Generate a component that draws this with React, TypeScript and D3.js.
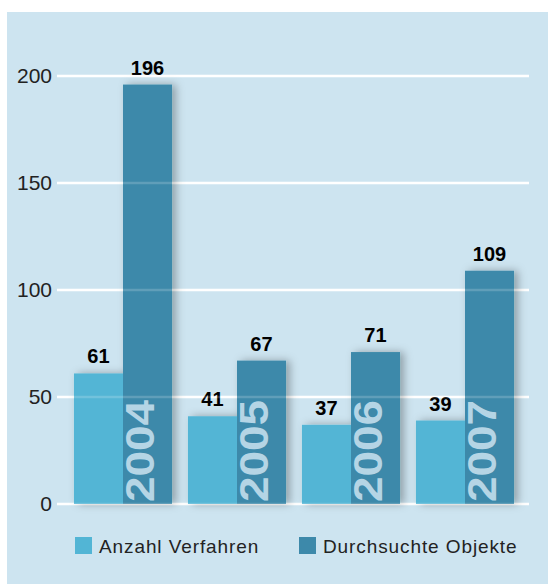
import React, { useEffect, useRef } from 'react';
import * as d3 from 'd3';

const years = ['2004', '2005', '2006', '2007'];
const seriesNames = ['Anzahl Verfahren', 'Durchsuchte Objekte'];
const verfahren = [61, 41, 37, 39];
const objekte = [196, 67, 71, 109];
const yTicks = [0, 50, 100, 150, 200];

const colors = ['#52b5d5', '#3d89aa'];

const App = () => {
  const svgRef = useRef<SVGSVGElement>(null);

  useEffect(() => {
    const width = 548;
    const height = 584;
    const svg = d3.select(svgRef.current);
    svg.selectAll('*').remove();
    svg.attr('width', width).attr('height', height);

    // drop shadow for bars
    const defs = svg.append('defs');
    const filter = defs.append('filter')
      .attr('id', 'barShadow')
      .attr('x', '-20%').attr('y', '-10%')
      .attr('width', '160%').attr('height', '120%');
    filter.append('feDropShadow')
      .attr('dx', 4).attr('dy', 0)
      .attr('stdDeviation', 4)
      .attr('flood-color', '#000')
      .attr('flood-opacity', 0.3);

    // background panel
    svg.append('rect')
      .attr('x', 7).attr('y', 12)
      .attr('width', width - 7).attr('height', height - 12)
      .attr('fill', '#cde4f0');

    const x = d3.scaleBand()
      .domain(years)
      .range([66, 522])
      .paddingInner(0.14)
      .paddingOuter(0.07);

    const xs = d3.scaleBand()
      .domain(seriesNames)
      .range([0, x.bandwidth()]);

    const y = d3.scaleLinear().domain([0, 200]).range([504, 76]);

    // gridlines
    const grid = svg.append('g');
    grid.selectAll('line')
      .data(yTicks)
      .join('line')
      .attr('x1', 57).attr('x2', 529)
      .attr('y1', d => y(d)).attr('y2', d => y(d))
      .attr('stroke', '#fff')
      .attr('stroke-width', 2.5);

    grid.selectAll('text')
      .data(yTicks)
      .join('text')
      .attr('x', 52)
      .attr('y', d => y(d))
      .attr('dy', '0.35em')
      .attr('text-anchor', 'end')
      .style('font-family', '"Liberation Sans", Arial, sans-serif')
      .style('font-size', '21px')
      .attr('fill', '#222')
      .text(d => d);

    const rows = years.map((yr, i) => ({ year: yr, values: [verfahren[i], objekte[i]] }));

    const groups = svg.append('g')
      .selectAll('g')
      .data(rows)
      .join('g')
      .attr('transform', d => `translate(${x(d.year)},0)`);

    groups.append('g')
      .attr('filter', 'url(#barShadow)')
      .selectAll('rect')
      .data(d => d.values.map((v, j) => ({ name: seriesNames[j], value: v, j })))
      .join('rect')
      .attr('x', d => xs(d.name)!)
      .attr('y', d => y(d.value))
      .attr('width', xs.bandwidth())
      .attr('height', d => y(0) - y(d.value))
      .attr('fill', d => colors[d.j]);

    // faint gridlines over bars
    svg.append('g')
      .selectAll('line')
      .data(yTicks)
      .join('line')
      .attr('x1', 57).attr('x2', 529)
      .attr('y1', d => y(d)).attr('y2', d => y(d))
      .attr('stroke', '#fff')
      .attr('stroke-opacity', 0.18)
      .attr('stroke-width', 2.5);

    // value labels
    groups.selectAll('text.val')
      .data(d => d.values.map((v, j) => ({ name: seriesNames[j], value: v })))
      .join('text')
      .attr('class', 'val')
      .attr('x', d => xs(d.name)! + xs.bandwidth() / 2)
      .attr('y', d => y(d.value) - 10)
      .attr('text-anchor', 'middle')
      .style('font-family', '"Liberation Sans", Arial, sans-serif')
      .style('font-size', '20px')
      .style('font-weight', 'bold')
      .attr('fill', '#000')
      .text(d => d.value);

    // year labels inside dark bars
    groups.append('text')
      .attr('transform', `translate(${xs(seriesNames[1])! + 31},${y(0) - 2}) rotate(-90)`)
      .attr('textLength', 102)
      .attr('lengthAdjust', 'spacingAndGlyphs')
      .style('font-family', '"Liberation Sans", Arial, sans-serif')
      .style('font-size', '40px')
      .style('font-weight', 'bold')
      .attr('fill', '#b5d5e5')
      .text(d => d.year);

    // legend
    const legendX = [75, 299];
    const legend = svg.append('g')
      .selectAll('g')
      .data(seriesNames)
      .join('g')
      .attr('transform', (d, i) => `translate(${legendX[i]},537)`);

    legend.append('rect')
      .attr('width', 17).attr('height', 17)
      .attr('fill', (d, i) => colors[i]);

    legend.append('text')
      .attr('x', 24)
      .attr('y', 9)
      .attr('dy', '0.35em')
      .style('font-family', '"Liberation Sans", Arial, sans-serif')
      .style('font-size', '19px')
      .style('letter-spacing', '0.9px')
      .attr('fill', '#222')
      .text(d => d);
  }, []);

  return (
    <div style={{ position: 'absolute', left: 0, top: 0 }}>
      <svg ref={svgRef} style={{ display: 'block' }}></svg>
    </div>
  );
};

export default App;
